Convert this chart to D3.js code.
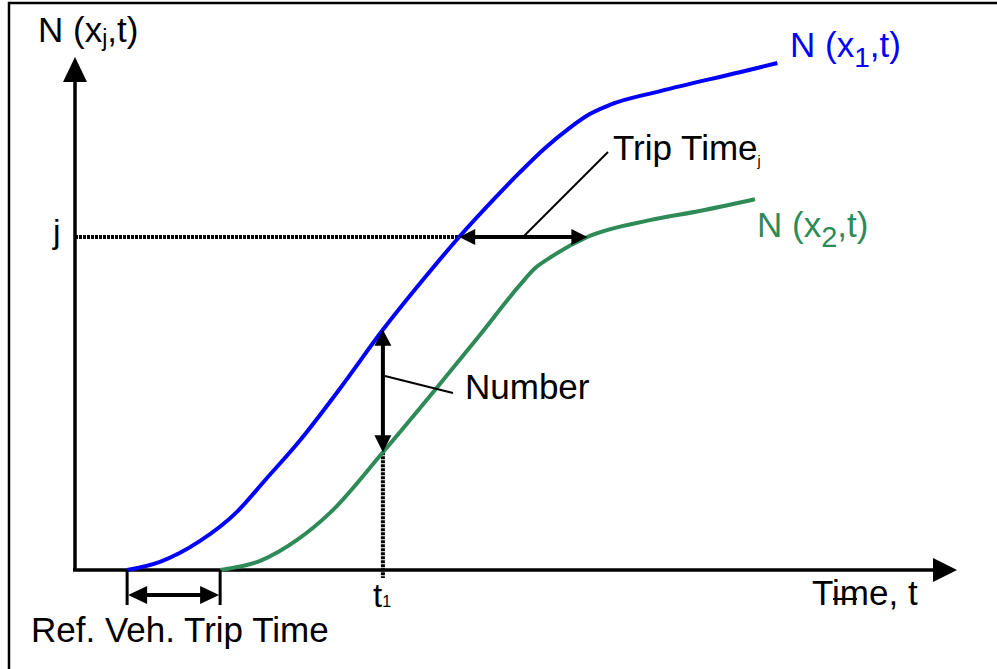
<!DOCTYPE html>
<html>
<head>
<meta charset="utf-8">
<script src="https://cdn.jsdelivr.net/npm/d3@7"></script>
<style>
  html, body { margin: 0; padding: 0; background: #fff; }
  text { font-family: "Liberation Sans", Arial, sans-serif; }
</style>
</head>
<body>
<div id="chart"></div>
<script>
// cumulative count curves (time units, vehicle count units)
var upstreamT   = [6.5, 10.6, 15.6, 20.2, 23.7, 28.1, 33.1, 38.4, 43.4, 47.8, 52.6, 55.5, 58.6, 61.7, 64.2, 66.7, 73.0, 82.9, 87.6];
var upstreamN   = [0, 1.6, 5.7, 11.4, 17.6, 25.5, 35.7, 47.1, 56.9, 65.1, 73.3, 78.0, 82.7, 86.7, 89.4, 91.2, 93.9, 97.6, 99.4];
var downstreamT = [18.1, 23.1, 27.7, 31.8, 38.4, 45.1, 50.5, 55.5, 57.4, 59.2, 63.9, 71.7, 77.9, 84.8];
var downstreamN = [0, 1.8, 5.9, 11.2, 23.1, 35.7, 46.1, 55.9, 59.2, 61.2, 65.3, 68.6, 70.4, 72.7];
var jLevel = 65.3;   // vehicle j
var t1 = 38.4;       // time t1

var width = 997, height = 669;
var svg = d3.select('#chart').append('svg')
  .attr('width', width).attr('height', height);

var x = d3.scaleLinear().domain([0, 110]).range([75, 957]);
var y = d3.scaleLinear().domain([0, 100]).range([570, 60]);

function pts(ts, ns) { return ts.map(function(t, i){ return [t, ns[i]]; }); }
var blue = pts(upstreamT, upstreamN);
var green = pts(downstreamT, downstreamN);

// linear lookup helpers
function nAt(data, t) {
  for (var i = 1; i < data.length; i++) {
    if (t <= data[i][0]) {
      var a = data[i-1], b = data[i];
      return a[1] + (b[1] - a[1]) * (t - a[0]) / (b[0] - a[0]);
    }
  }
  return data[data.length-1][1];
}
function tAt(data, n) {
  for (var i = 1; i < data.length; i++) {
    if (n <= data[i][1]) {
      var a = data[i-1], b = data[i];
      return a[0] + (b[0] - a[0]) * (n - a[1]) / (b[1] - a[1]);
    }
  }
  return data[data.length-1][0];
}

// arrow head: tip at (px,py), pointing dir ('up','down','left','right')
function head(px, py, dir, len, half) {
  var p;
  if (dir == 'up') p = [[px, py], [px-half, py+len], [px+half, py+len]];
  if (dir == 'down') p = [[px, py], [px-half, py-len], [px+half, py-len]];
  if (dir == 'left') p = [[px, py], [px+len, py-half], [px+len, py+half]];
  if (dir == 'right') p = [[px, py], [px-len, py-half], [px-len, py+half]];
  svg.append('polygon').attr('points', p.map(function(d){ return d.join(','); }).join(' '))
    .attr('fill', '#000');
}
function seg(x1, y1, x2, y2, w, dash) {
  var l = svg.append('line').attr('x1', x1).attr('y1', y1).attr('x2', x2).attr('y2', y2)
    .attr('stroke', '#000').attr('stroke-width', w);
  if (dash) l.attr('stroke-dasharray', dash);
  return l;
}
function label(px, py, parts, size, color) {
  var t = svg.append('text').attr('x', px).attr('y', py)
    .attr('font-size', size).attr('fill', color || '#000');
  parts.forEach(function(p){
    var s = t.append('tspan').text(p[0]);
    if (p[1]) s.attr('font-size', p[1]).attr('dy', p[2]);
  });
  return t;
}

// frame
svg.append('rect').attr('x', 9).attr('y', 3).attr('width', 1000).attr('height', 700)
  .attr('fill', 'none').attr('stroke', '#000').attr('stroke-width', 2.5);

// axes
seg(x(0), y(0), x(0), y(100) + 20, 3.5);
head(x(0), y(100) - 3, 'up', 25, 12);
seg(x(0) - 2, y(0), x(110) - 20, y(0), 3.5);
head(x(110), y(0), 'right', 24, 12);

// j dotted level line
var tj1 = tAt(blue, jLevel), tj2 = tAt(green, jLevel);
seg(x(0), y(jLevel), x(tj1), y(jLevel), 4, '3,1');

// t1 dotted line
var nb = nAt(blue, t1), ng = nAt(green, t1);
seg(x(t1), y(ng), x(t1), y(0) + 8, 4, '3,1');

// curves
var line = d3.line().x(function(d){ return x(d[0]); }).y(function(d){ return y(d[1]); })
  .curve(d3.curveMonotoneX);
svg.append('path').datum(blue).attr('d', line).attr('fill', 'none')
  .attr('stroke', '#0000ff').attr('stroke-width', 4);
svg.append('path').datum(green).attr('d', line).attr('fill', 'none')
  .attr('stroke', '#2e8b57').attr('stroke-width', 4);

// trip time j arrow
seg(x(tj1) + 10, y(jLevel), x(tj2) - 10, y(jLevel), 4);
head(x(tj1), y(jLevel), 'left', 16, 8);
head(x(tj2), y(jLevel), 'right', 16, 8);
seg(523, y(jLevel), 608, 152, 2);

// number arrow at t1
seg(x(t1), y(nb) + 10, x(t1), y(ng) - 10, 4);
head(x(t1), y(nb), 'up', 16, 8.5);
head(x(t1), y(ng), 'down', 17, 8.5);
seg(x(t1) + 2, 376, 453, 393, 2);

// ref vehicle trip time
var ts = upstreamT[0], te = downstreamT[0];
seg(x(ts), y(0), x(ts), y(0) + 35, 3);
seg(x(te), y(0), x(te), y(0) + 35, 3);
seg(x(ts) + 10, 595, x(te) - 10, 595, 4);
head(x(ts) + 1, 595, 'left', 19, 9);
head(x(te) - 1, 595, 'right', 19, 9);

// small stray tick near the axis title
seg(833, 599, 857, 599, 2);

// labels
label(38, 42, [['N (x'], ['j', 23, 4], [',t)', 35, -4]], 35);
label(790, 57, [['N (x'], ['1', 28, 10], [',t)', 35, -10]], 35, '#0000ff');
label(757, 237, [['N (x'], ['2', 29, 10], [',t)', 35, -10]], 35, '#2e8b57');
label(613, 160, [['Trip Time'], ['j', 14, 6]], 35);
label(53, 243, [['j']], 34);
label(465, 399, [['Number']], 35);
label(373, 607, [['t'], ['1', 16, 0]], 33);
label(812, 605, [['Time, t']], 35);
label(31, 642, [['Ref. Veh. Trip Time']], 35);
</script>
</body>
</html>
